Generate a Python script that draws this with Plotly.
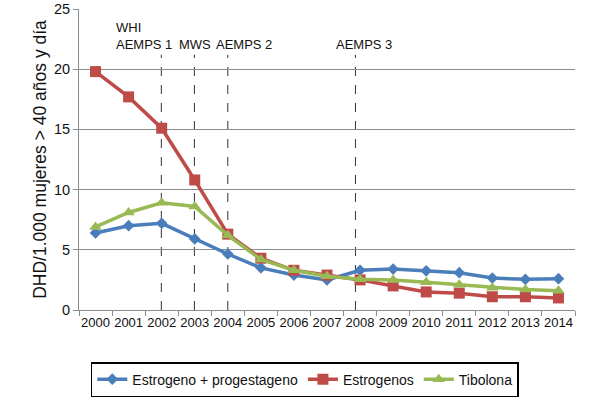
import plotly.graph_objects as go

years = [str(y) for y in range(2000, 2015)]
estro_progest = [6.4, 7.0, 7.2, 5.9, 4.65, 3.5, 2.9, 2.5, 3.3, 3.4, 3.25, 3.1, 2.65, 2.55, 2.6]
estrogenos = [19.8, 17.7, 15.1, 10.8, 6.3, 4.3, 3.3, 2.9, 2.5, 2.0, 1.5, 1.4, 1.1, 1.1, 1.0]
tibolona = [6.9, 8.1, 8.9, 8.6, 6.2, 4.2, 3.3, 2.8, 2.55, 2.5, 2.3, 2.1, 1.85, 1.7, 1.6]

event_labels = ["WHI<br>AEMPS 1", "MWS", "AEMPS 2", "AEMPS 3"]
event_pos = [1.99, 2.99, 4.0, 7.86]
event_label_x = [1.47, 3.0, 4.5, 8.13]

yticks = [0, 5, 10, 15, 20, 25]

xs = list(range(len(years)))
font = "Liberation Sans, Arial, sans-serif"

fig = go.Figure()
fig.add_trace(go.Scatter(x=xs, y=estro_progest, name="Estrogeno + progestageno",
                         mode="lines+markers",
                         line=dict(color="#4A7EBB", width=3.5),
                         marker=dict(symbol="diamond", size=9, color="#4A7EBB")))
fig.add_trace(go.Scatter(x=xs, y=estrogenos, name="Estrogenos",
                         mode="lines+markers",
                         line=dict(color="#BE4B48", width=3.5),
                         marker=dict(symbol="square", size=11, color="#BE4B48")))
fig.add_trace(go.Scatter(x=xs, y=tibolona, name="Tibolona",
                         mode="lines+markers",
                         line=dict(color="#98B954", width=3.5),
                         marker=dict(symbol="triangle-up", size=11, color="#98B954")))

for pos in event_pos:
    fig.add_shape(type="line", x0=pos, x1=pos, y0=0, y1=21.2, xref="x", yref="y",
                  line=dict(color="#333333", width=1, dash="dash"), layer="below")

for lab, lx in zip(event_labels, event_label_x):
    fig.add_annotation(x=lx, y=21.25, xref="x", yref="y", text=lab, showarrow=False,
                       xanchor="center", yanchor="bottom", align="left",
                       font=dict(family=font, size=13, color="#111111"))

fig.update_layout(
    width=600, height=397,
    margin=dict(l=79, r=25, t=9, b=87, autoexpand=False),
    paper_bgcolor="white", plot_bgcolor="white",
    font=dict(family=font, size=13, color="#111111"),
    showlegend=True,
    hovermode=False,
    legend=dict(orientation="h", xref="container", yref="container",
                x=0.508, xanchor="center", y=0.088, yanchor="top",
                bordercolor="#000000", borderwidth=1.5,
                font=dict(family=font, size=14, color="#111111"),
                itemwidth=30, tracegroupgap=0),
    xaxis=dict(range=[-0.5, 14.5], tickmode="array", tickvals=xs, ticktext=years,
               ticks="", showgrid=False, zeroline=False, automargin=False,
               showline=True, linecolor="#8c8c8c", linewidth=1,
               tickfont=dict(family=font, size=13, color="#111111"),
               minor=dict(tickmode="linear", tick0=-0.5, dtick=1, ticks="outside",
                          ticklen=5, tickcolor="#8c8c8c", showgrid=False)),
    yaxis=dict(range=[0, 25], tickmode="array", tickvals=yticks,
               showgrid=True, gridcolor="#8c8c8c", gridwidth=1, automargin=False,
               zeroline=False, showline=True, linecolor="#8c8c8c", linewidth=1,
               ticks="outside", ticklen=5, tickcolor="#8c8c8c",
               tickfont=dict(family=font, size=14.5, color="#111111"),
               title=dict(text="DHD/1.000 mujeres > 40 años y día",
                          font=dict(family=font, size=17.5, color="#111111"),
                          standoff=2)),
)

fig.write_html("out.html", config={"displayModeBar": False},
               post_script="document.body.style.margin='0';")
